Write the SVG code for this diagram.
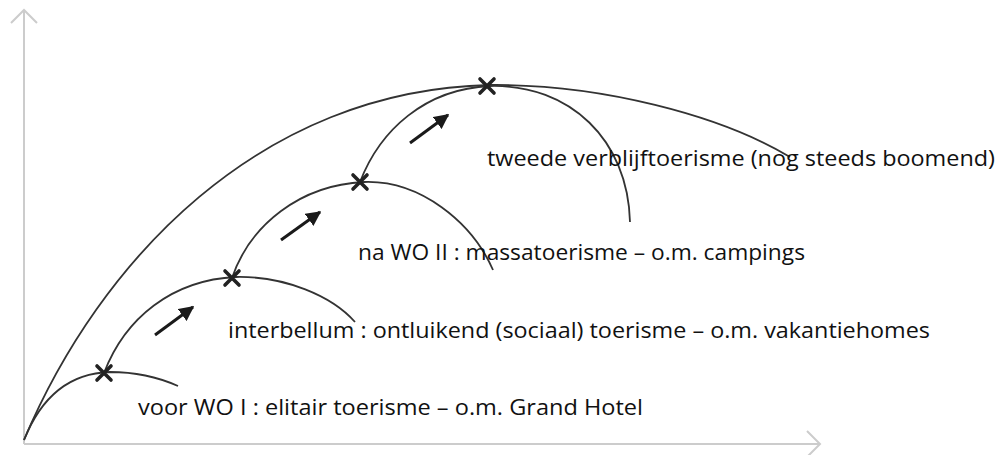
<svg xmlns="http://www.w3.org/2000/svg" width="1000" height="455" viewBox="0 0 1000 455">
<defs>
<style>
.axis{fill:none;stroke:#cccccc;stroke-width:2}
.curve{fill:none;stroke:#333333;stroke-width:1.8}
.cross{fill:none;stroke:#222222;stroke-width:3.6;stroke-linecap:round}
.arrow{fill:none;stroke:#1a1a1a;stroke-width:3}
.lbl{font-family:"Open Sans","Liberation Sans",sans-serif;font-size:21.5px;fill:#111111}
</style>
<marker id="ah" viewBox="0 0 10 10" refX="9" refY="5" markerWidth="5" markerHeight="5" markerUnits="strokeWidth" orient="auto">
<path d="M0,0 L10,5 L0,10 Z" fill="#1a1a1a"/>
</marker>
</defs>
<rect width="1000" height="455" fill="#ffffff"/>
<g id="axes">
<path class="axis" d="M24,444 L24,10 M11,23 L24,10 L37,23"/>
<path class="axis" d="M24,444 L820,444 M807,431 L820,444 L807,457"/>
</g>
<g id="connectors">
<path class="curve" d="M24,440 C100,260 260,90 490,85 C600,84 720,115 790,157"/>
<path class="curve" d="M24,440 C42,395 72,373 110,372 C140,372 160,378 178,386"/>
<path class="curve" d="M104,373 C125,318 172,280 236,277 C285,276 332,296 355,322"/>
<path class="curve" d="M232,278 C250,225 300,185 364,182 C420,180 472,222 493,270"/>
<path class="curve" d="M360,182 C380,130 425,89 490,86 C570,84 628,140 630,222"/>
<line class="arrow" x1="155" y1="335" x2="193" y2="307" marker-end="url(#ah)"/>
<line class="arrow" x1="281" y1="240" x2="320" y2="212" marker-end="url(#ah)"/>
<line class="arrow" x1="410" y1="143" x2="448" y2="115" marker-end="url(#ah)"/>
</g>
<g id="node-voor">
<path class="cross" d="M97,366 L111,380 M111,366 L97,380"/>
<text class="lbl" x="138" y="415" textLength="505" lengthAdjust="spacingAndGlyphs">voor WO I : elitair toerisme – o.m. Grand Hotel</text>
</g>
<g id="node-interbellum">
<path class="cross" d="M225,271 L239,285 M239,271 L225,285"/>
<text class="lbl" x="228" y="338" textLength="702" lengthAdjust="spacingAndGlyphs">interbellum : ontluikend (sociaal) toerisme – o.m. vakantiehomes</text>
</g>
<g id="node-na">
<path class="cross" d="M353,175 L367,189 M367,175 L353,189"/>
<text class="lbl" x="358" y="260" textLength="447" lengthAdjust="spacingAndGlyphs">na WO II : massatoerisme – o.m. campings</text>
</g>
<g id="node-tweede">
<path class="cross" d="M480,79 L494,93 M494,79 L480,93"/>
<text class="lbl" x="487" y="166" textLength="508" lengthAdjust="spacingAndGlyphs">tweede verblijftoerisme (nog steeds boomend)</text>
</g>
</svg>
